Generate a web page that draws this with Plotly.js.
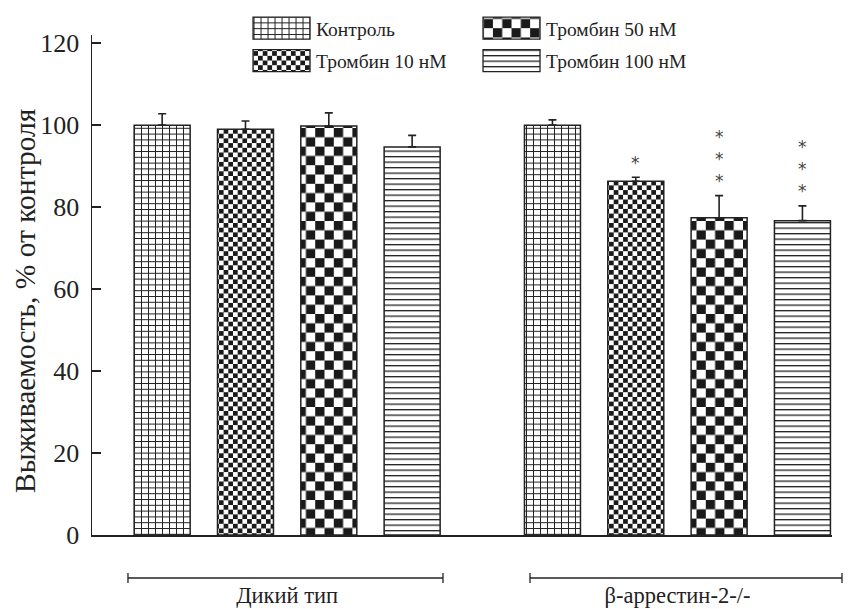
<!DOCTYPE html>
<html>
<head>
<meta charset="utf-8">
<script src="https://cdn.plot.ly/plotly-3.0.1.min.js"></script>
<style>
html,body{margin:0;padding:0;background:#fff;}
#chart{width:859px;height:609px;}
</style>
</head>
<body>
<svg width="0" height="0" style="position:absolute">
  <defs>
    <pattern id="pat-grid" patternUnits="userSpaceOnUse" width="7" height="5.8">
      <rect x="0" y="0" width="7" height="5.8" fill="#fff"/>
      <rect x="0" y="0" width="1" height="5.8" fill="#222"/>
      <rect x="0" y="0" width="7" height="1" fill="#222"/>
    </pattern>
    <pattern id="pat-check-s" patternUnits="userSpaceOnUse" width="9.4" height="9.4">
      <rect x="0" y="0" width="9.4" height="9.4" fill="#fff"/>
      <rect x="0" y="0" width="4.7" height="4.7" fill="#1a1a1a"/>
      <rect x="4.7" y="4.7" width="4.7" height="4.7" fill="#1a1a1a"/>
    </pattern>
    <pattern id="pat-check-l" patternUnits="userSpaceOnUse" width="18.6" height="18.6">
      <rect x="0" y="0" width="18.6" height="18.6" fill="#fff"/>
      <rect x="0" y="0" width="9.3" height="9.3" fill="#1a1a1a"/>
      <rect x="9.3" y="9.3" width="9.3" height="9.3" fill="#1a1a1a"/>
    </pattern>
    <pattern id="pat-hlines" patternUnits="userSpaceOnUse" width="10" height="5.5">
      <rect x="0" y="0" width="10" height="5.5" fill="#fff"/>
      <rect x="0" y="0" width="10" height="1.3" fill="#222"/>
    </pattern>
  </defs>
</svg>
<div id="chart"></div>
<script>
// ---- data ----
var categories = ['Дикий тип', 'β-аррестин-2-/-'];
var seriesNames = ['Контроль', 'Тромбин 10 нМ', 'Тромбин 50 нМ', 'Тромбин 100 нМ'];
var controlVals = [100, 100];
var thr10Vals = [99.0, 86.3];
var thr50Vals = [99.8, 77.4];
var thr100Vals = [94.7, 76.7];
var controlErr = [2.8, 1.3];
var thr10Err = [2.0, 1.0];
var thr50Err = [3.2, 5.4];
var thr100Err = [2.8, 3.6];
var controlSig = ['', ''];
var thr10Sig = ['', '*'];
var thr50Sig = ['', '***'];
var thr100Sig = ['', '***'];
var yTicks = [0, 20, 40, 60, 80, 100, 120];
var yTitle = 'Выживаемость, % от контроля';

var values = [controlVals, thr10Vals, thr50Vals, thr100Vals];
var errs = [controlErr, thr10Err, thr50Err, thr100Err];
var sigs = [controlSig, thr10Sig, thr50Sig, thr100Sig];
var patterns = ['pat-grid', 'pat-check-s', 'pat-check-l', 'pat-hlines'];
var legendIds = ['legend', 'legend', 'legend2', 'legend2'];

var serif = 'Liberation Serif, Times New Roman, serif';
var ink = '#222';
var bargap = 0.146;

var traces = seriesNames.map(function (name, i) {
  return {
    type: 'bar',
    name: name,
    x: categories,
    y: values[i],
    legend: legendIds[i],
    legendgroup: 'g' + i,
    marker: {color: '#ffffff', line: {color: ink, width: 1.5}},
    error_y: {type: 'data', array: errs[i], arrayminus: errs[i].map(function(){return 0;}),
              symmetric: false, color: ink, thickness: 1.6, width: 4},
    hoverinfo: 'skip'
  };
});

// significance stars
var annotations = [];
var slot = (1 - bargap) / seriesNames.length;
sigs.forEach(function (arr, i) {
  arr.forEach(function (s, g) {
    if (!s) return;
    annotations.push({
      xref: 'x', yref: 'y',
      x: g + (i - (seriesNames.length - 1) / 2) * slot,
      y: values[i][g] + errs[i][g],
      yanchor: 'bottom', xanchor: 'center',
      text: s.split('').join('<br>'),
      showarrow: false,
      yshift: 2.5,
      font: {family: 'DejaVu Sans, sans-serif', size: 17, color: '#444'}
    });
  });
});

// y-axis title (placed as a rotated annotation to match the reference's vertical offset)
annotations.push({
  xref: 'paper', yref: 'paper', x: -0.0905, y: 0.468,
  xanchor: 'center', yanchor: 'middle', textangle: -90,
  text: yTitle, showarrow: false,
  font: {family: serif, size: 29.5, color: ink}
});

// group brackets
function bracket(x0, x1, y, d) {
  var ln = {color: ink, width: 1.3};
  return [
    {type: 'line', xref: 'paper', yref: 'paper', x0: x0, x1: x1, y0: y, y1: y, line: ln},
    {type: 'line', xref: 'paper', yref: 'paper', x0: x0, x1: x0, y0: y - d, y1: y + d, line: ln},
    {type: 'line', xref: 'paper', yref: 'paper', x0: x1, x1: x1, y0: y - d, y1: y + d, line: ln}
  ];
}
var shapes = bracket(0.0486, 0.4743, -0.086, 0.01).concat(bracket(0.5919, 1.0135, -0.086, 0.01));

var layout = {
  width: 859, height: 609,
  margin: {l: 92, r: 27, t: 35, b: 74, autoexpand: false},
  paper_bgcolor: '#fff', plot_bgcolor: '#fff',
  barmode: 'group', bargap: bargap, bargroupgap: 0.328,
  showlegend: true,
  font: {family: serif, color: ink},
  xaxis: {
    type: 'category', range: [-0.5, 1.396],
    showline: true, linecolor: ink, linewidth: 1.5,
    ticks: '', showgrid: false, zeroline: false,
    tickfont: {family: serif, size: 22.5, color: ink},
    ticklabelstandoff: 39
  },
  yaxis: {
    range: [0, 122], tickvals: yTicks, ticktext: yTicks.map(String),
    showline: true, linecolor: ink, linewidth: 1.5,
    ticks: 'inside', ticklen: 9, tickwidth: 1.5, tickcolor: ink,
    showgrid: false, zeroline: false,
    tickfont: {family: serif, size: 26, color: ink},
    ticklabelstandoff: 6
  },
  legend: {
    x: 0.2095, y: 1.052, xanchor: 'left', yanchor: 'top',
    orientation: 'v', traceorder: 'grouped', tracegroupgap: 4,
    itemwidth: 59, bgcolor: 'rgba(0,0,0,0)',
    font: {family: serif, size: 19.5, color: ink}
  },
  legend2: {
    x: 0.5203, y: 1.052, xanchor: 'left', yanchor: 'top',
    orientation: 'v', traceorder: 'grouped', tracegroupgap: 4,
    itemwidth: 59, bgcolor: 'rgba(0,0,0,0)',
    font: {family: serif, size: 19.5, color: ink}
  },
  annotations: annotations,
  shapes: shapes
};

var gd = document.getElementById('chart');

function applyPatterns() {
  var groups = gd.querySelectorAll('.barlayer .trace.bars');
  groups.forEach(function (g) {
    var cd = g.__data__;
    var tr = cd && cd[0] && cd[0].trace;
    if (!tr) return;
    var idx = seriesNames.indexOf(tr.name);
    if (idx < 0) return;
    g.querySelectorAll('.point path').forEach(function (p) {
      p.style.fill = 'url(#' + patterns[idx] + ')';
      p.style.fillOpacity = 1;
    });
  });
  gd.querySelectorAll('g.traces').forEach(function (t) {
    var d = t.__data__;
    var tr = d && d[0] && d[0].trace;
    if (!tr) return;
    var idx = seriesNames.indexOf(tr.name);
    if (idx < 0) return;
    t.querySelectorAll('.legendpoints path').forEach(function (p) {
      p.setAttribute('d', 'M-28.5,-11H28.5V11H-28.5Z');
      p.style.fill = 'url(#' + patterns[idx] + ')';
      p.style.fillOpacity = 1;
      p.style.stroke = ink;
      p.style.strokeWidth = '1.3px';
    });
  });
}

Plotly.newPlot(gd, traces, layout, {displayModeBar: false, staticPlot: true}).then(function () {
  applyPatterns();
  gd.on('plotly_afterplot', applyPatterns);
});
</script>
</body>
</html>
